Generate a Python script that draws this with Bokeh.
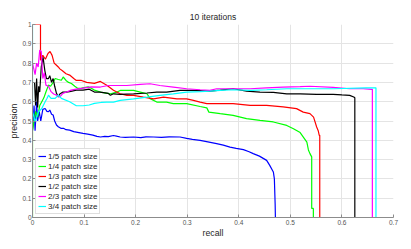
from bokeh.plotting import figure
from bokeh.models import FixedTicker, Legend, LegendItem, Range1d
from bokeh.embed import file_html
from bokeh.resources import INLINE

# ---- data ----
x_ticks = [0, 0.1, 0.2, 0.3, 0.4, 0.5, 0.6, 0.7]
x_labels = ["0", "0.1", "0.2", "0.3", "0.4", "0.5", "0.6", "0.7"]
y_ticks = [0, 0.1, 0.2, 0.3, 0.4, 0.5, 0.6, 0.7, 0.8, 0.9, 1]
y_labels = ["0", "0.1", "0.2", "0.3", "0.4", "0.5", "0.6", "0.7", "0.8", "0.9", "1"]

series_names = ["1/5 patch size", "1/4 patch size", "1/3 patch size",
                "1/2 patch size", "2/3 patch size", "3/4 patch size"]

recall_15 = [0, 0.003, 0.005, 0.008, 0.01, 0.013, 0.016, 0.02, 0.0245, 0.028, 0.031, 0.0335,
             0.037, 0.04, 0.043, 0.0465, 0.05, 0.055, 0.06, 0.065, 0.072, 0.08, 0.09, 0.098,
             0.107, 0.117, 0.125, 0.132, 0.14, 0.147, 0.157, 0.165, 0.17, 0.18, 0.196, 0.21,
             0.22, 0.235, 0.25, 0.265, 0.286, 0.299, 0.31, 0.325, 0.34, 0.357, 0.37, 0.383,
             0.395, 0.409, 0.42, 0.428, 0.44, 0.454, 0.46, 0.467, 0.469, 0.4705, 0.471]
precision_15 = [0.45, 0.58, 0.45, 0.6, 0.5, 0.55, 0.5, 0.56, 0.565, 0.55, 0.548, 0.557,
                0.535, 0.531, 0.5, 0.479, 0.47, 0.462, 0.462, 0.455, 0.453, 0.445, 0.44, 0.436,
                0.432, 0.427, 0.42, 0.417, 0.42, 0.419, 0.425, 0.42, 0.417, 0.415, 0.417, 0.414,
                0.418, 0.417, 0.415, 0.418, 0.417, 0.41, 0.405, 0.4, 0.392, 0.383, 0.375, 0.365,
                0.358, 0.352, 0.341, 0.331, 0.318, 0.296, 0.27, 0.236, 0.2, 0.07, 0.0]

recall_14 = [0, 0, 0.003, 0.006, 0.01, 0.014, 0.018, 0.022, 0.026, 0.031, 0.035, 0.04, 0.044,
             0.05, 0.056, 0.0595, 0.065, 0.07, 0.0755, 0.082, 0.088, 0.095, 0.108, 0.115, 0.12,
             0.1316, 0.151, 0.164, 0.171, 0.196, 0.209, 0.222, 0.228, 0.241, 0.26, 0.273, 0.299,
             0.325, 0.338, 0.342, 0.364, 0.389, 0.415, 0.441, 0.467, 0.493, 0.506, 0.519, 0.532,
             0.535, 0.538, 0.5414, 0.5414, 0.5446, 0.5446]
precision_14 = [0, 0.45, 0.5, 0.55, 0.52, 0.58, 0.6, 0.62, 0.65, 0.686, 0.68, 0.7, 0.72,
                0.715, 0.711, 0.728, 0.71, 0.7, 0.694, 0.68, 0.669, 0.67, 0.677, 0.668, 0.66,
                0.65, 0.641, 0.65, 0.659, 0.659, 0.65, 0.641, 0.616, 0.598, 0.598, 0.59, 0.59,
                0.575, 0.568, 0.546, 0.538, 0.529, 0.512, 0.503, 0.495, 0.477, 0.46, 0.44, 0.391,
                0.35, 0.331, 0.314, 0.047, 0.047, 0.0]

recall_13 = [0, 0.0155, 0.0155, 0.02, 0.025, 0.03, 0.034, 0.038, 0.042, 0.046, 0.05, 0.053,
             0.058, 0.065, 0.072, 0.08, 0.085, 0.095, 0.105, 0.12, 0.1316, 0.144, 0.157, 0.17,
             0.183, 0.196, 0.215, 0.235, 0.254, 0.28, 0.299, 0.312, 0.325, 0.338, 0.357, 0.389,
             0.422, 0.454, 0.486, 0.512, 0.525, 0.538, 0.545, 0.551, 0.554, 0.556, 0.557, 0.557]
precision_13 = [1, 1, 0.815, 0.84, 0.82, 0.85, 0.86, 0.84, 0.8, 0.79, 0.78, 0.77,
                0.76, 0.745, 0.738, 0.72, 0.71, 0.71, 0.7, 0.695, 0.705, 0.685, 0.659, 0.641,
                0.633, 0.633, 0.624, 0.615, 0.624, 0.615, 0.615, 0.607, 0.598, 0.59, 0.59, 0.59,
                0.581, 0.581, 0.573, 0.564, 0.546, 0.538, 0.52, 0.469, 0.45, 0.426, 0.426, 0.0]

recall_12 = [0.004, 0.006, 0.008, 0.01, 0.012, 0.014, 0.017, 0.0205, 0.024, 0.027, 0.031,
             0.0335, 0.037, 0.04, 0.043, 0.0465, 0.05, 0.053, 0.059, 0.065, 0.072, 0.085, 0.098,
             0.11, 0.12, 0.131, 0.147, 0.151, 0.157, 0.17, 0.196, 0.222, 0.241, 0.26, 0.286,
             0.312, 0.344, 0.364, 0.389, 0.415, 0.441, 0.467, 0.493, 0.519, 0.551, 0.583, 0.6,
             0.615, 0.623, 0.625, 0.625]
precision_12 = [0.7, 0.58, 0.72, 0.57, 0.68, 0.65, 0.78, 0.83, 0.76, 0.72, 0.72,
                0.735, 0.7, 0.72, 0.68, 0.643, 0.625, 0.64, 0.65, 0.65, 0.652, 0.66, 0.66,
                0.665, 0.65, 0.65, 0.643, 0.633, 0.641, 0.638, 0.641, 0.645, 0.65, 0.65, 0.659,
                0.659, 0.655, 0.66, 0.667, 0.655, 0.65, 0.648, 0.641, 0.641, 0.638, 0.638, 0.635,
                0.633, 0.624, 0.62, 0.0]

recall_23 = [0, 0.005, 0.008, 0.011, 0.014, 0.017, 0.02, 0.023, 0.026, 0.031, 0.036, 0.041,
             0.0465, 0.053, 0.059, 0.066, 0.075, 0.085, 0.095, 0.114, 0.1316, 0.147, 0.157,
             0.183, 0.209, 0.228, 0.247, 0.273, 0.299, 0.325, 0.344, 0.357, 0.389, 0.422, 0.454,
             0.486, 0.519, 0.538, 0.583, 0.615, 0.641, 0.6575, 0.659, 0.659]
precision_23 = [0.8, 0.74, 0.8, 0.78, 0.867, 0.86, 0.72, 0.75, 0.686, 0.68, 0.652, 0.64,
                0.634, 0.625, 0.643, 0.65, 0.66, 0.665, 0.669, 0.677, 0.676, 0.684, 0.684,
                0.684, 0.69, 0.693, 0.684, 0.676, 0.667, 0.662, 0.659, 0.667, 0.667, 0.667, 0.672,
                0.676, 0.678, 0.68, 0.674, 0.667, 0.667, 0.664, 0.664, 0.0]

recall_34 = [0, 0, 0.005, 0.0115, 0.018, 0.0245, 0.028, 0.031, 0.0335, 0.036, 0.044, 0.05,
             0.056, 0.072, 0.085, 0.098, 0.11, 0.12, 0.133, 0.144, 0.157, 0.17, 0.196, 0.222,
             0.247, 0.273, 0.299, 0.325, 0.344, 0.364, 0.389, 0.422, 0.454, 0.493, 0.538, 0.583,
             0.647, 0.666, 0.666]
precision_34 = [1, 0.55, 0.497, 0.548, 0.565, 0.6, 0.617, 0.634, 0.625, 0.617, 0.617, 0.634,
                0.617, 0.6, 0.579, 0.579, 0.583, 0.591, 0.596, 0.598, 0.598, 0.607, 0.615, 0.624,
                0.633, 0.641, 0.65, 0.652, 0.655, 0.659, 0.662, 0.659, 0.662, 0.667, 0.667, 0.667,
                0.672, 0.672, 0.0]

recalls = [recall_15, recall_14, recall_13, recall_12, recall_23, recall_34]
precisions = [precision_15, precision_14, precision_13, precision_12, precision_23, precision_34]
colors = ["#0000ff", "#00ff00", "#ff0000", "#000000", "#ff00ff", "#00ffff"]

FONT = "Liberation Sans"

p = figure(width=403, height=241, output_backend="svg", toolbar_location=None,
           x_range=Range1d(0, 0.7), y_range=Range1d(0, 1),
           min_border_left=32, min_border_right=10, min_border_top=24, min_border_bottom=24)
p.outline_line_color = None
p.background_fill_color = "white"
p.border_fill_color = "white"

p.title.text = "10 iterations"
p.title.align = "center"
p.title.text_font = FONT
p.title.text_font_size = "8.5px"
p.title.text_font_style = "normal"
p.title.text_color = "#262626"
p.title.standoff = 5

for ax, ticks, labels, lab in [(p.xaxis[0], x_ticks, x_labels, "recall"),
                               (p.yaxis[0], y_ticks, y_labels, "precision")]:
    ax.ticker = FixedTicker(ticks=ticks)
    ax.major_label_overrides = {t: l for t, l in zip(ticks, labels)}
    ax.axis_label = lab
    ax.axis_label_text_font = FONT
    ax.axis_label_text_font_size = "8.7px"
    ax.axis_label_text_font_style = "normal"
    ax.axis_label_text_color = "#262626"
    ax.axis_label_standoff = 0
    ax.major_label_standoff = 1
    ax.major_label_text_font = FONT
    ax.major_label_text_font_size = "6.5px"
    ax.major_label_text_color = "#555555"
    ax.major_tick_in = 3
    ax.major_tick_out = 0
    ax.minor_tick_line_color = None
    ax.axis_line_color = "#8c8c8c"
    ax.major_tick_line_color = "#8c8c8c"
p.xaxis[0].major_label_standoff = 2

p.xgrid.ticker = FixedTicker(ticks=x_ticks)
p.ygrid.ticker = FixedTicker(ticks=y_ticks)
p.xgrid.grid_line_color = "#e4e4e4"
p.ygrid.grid_line_color = "#e4e4e4"

items = []
for r, pr, c, name in zip(recalls, precisions, colors, series_names):
    gl = p.line(r, pr, line_color=c, line_width=1.2)
    items.append(LegendItem(label=name, renderers=[gl]))

legend = Legend(items=items, location=(3, 3))
legend.label_text_font = FONT
legend.label_text_font_size = "8px"
legend.label_text_color = "#262626"
legend.label_height = 10
legend.glyph_height = 10
legend.glyph_width = 8
legend.spacing = 0
legend.padding = 2
legend.margin = 0
legend.label_standoff = 2
legend.border_line_color = "#bdbdbd"
legend.border_line_width = 1
legend.background_fill_color = "white"
legend.background_fill_alpha = 1
p.add_layout(legend)

open("out.html", "w").write(file_html(p, INLINE))
